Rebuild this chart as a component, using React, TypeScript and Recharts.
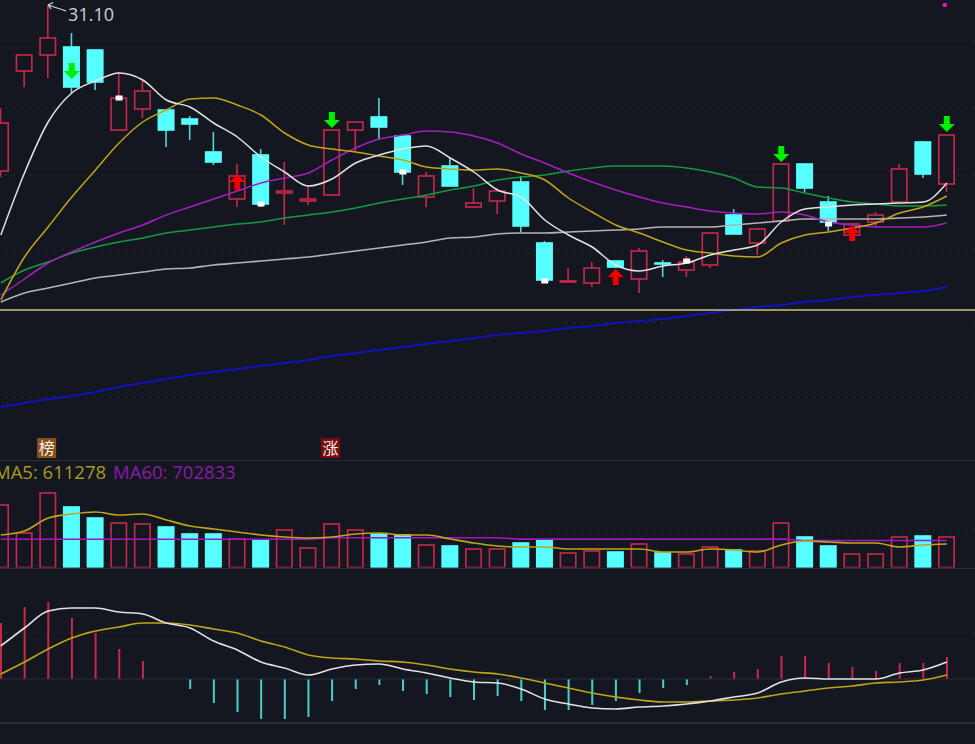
import { Bar, CartesianGrid, Cell, ComposedChart, Line, ReferenceLine, XAxis, YAxis } from 'recharts';

const opens = [22.8, 27.8, 28.6, 29.0, 28.85, 24.85, 25.9, 25.85, 25.4, 23.75, 21.4, 23.6, 21.7, 21.3, 21.6, 24.85, 25.5, 24.55, 21.5, 23.05, 21.0, 21.3, 22.25, 19.2, 17.25, 17.2, 18.3, 17.4, 18.2, 17.85, 18.1, 20.6, 19.2, 20.3, 23.15, 21.25, 19.6, 20.25, 21.25, 24.25, 22.15];
const closes = [25.2, 28.6, 29.45, 27.0, 27.25, 26.45, 26.8, 24.85, 25.15, 23.25, 22.55, 21.15, 21.8, 21.4, 24.85, 25.25, 25.0, 22.75, 22.55, 22.05, 21.2, 21.8, 20.05, 17.35, 17.3, 17.95, 18.0, 18.8, 18.15, 18.25, 19.7, 19.65, 19.9, 23.15, 21.95, 20.25, 20.15, 20.6, 22.9, 22.65, 24.6];
const highs = [25.95, 28.6, 31.1, 29.7, 28.85, 27.75, 27.35, 25.85, 25.55, 24.75, 23.15, 23.9, 23.25, 22.05, 24.85, 25.25, 26.45, 24.65, 22.75, 23.45, 21.95, 21.95, 22.55, 19.3, 17.95, 18.25, 18.3, 18.95, 18.35, 18.55, 19.7, 20.9, 19.95, 23.15, 23.15, 21.55, 20.2, 20.75, 23.15, 24.3, 24.6];
const lows = [22.5, 27.0, 27.45, 26.7, 26.85, 24.85, 25.45, 24.0, 24.35, 23.1, 21.0, 21.0, 20.1, 21.1, 21.6, 23.75, 24.35, 22.1, 21.0, 22.05, 21.0, 20.65, 19.75, 17.2, 17.25, 17.0, 17.95, 16.7, 17.5, 17.5, 17.95, 19.65, 18.6, 20.3, 21.75, 19.8, 19.6, 20.05, 21.25, 22.45, 21.75];

const ma5 = [19.6, 22.7, 25.25, 26.7, 27.3, 27.7, 27.35, 26.35, 26.0, 25.2, 24.5, 23.5, 22.75, 22.05, 22.4, 23.2, 23.6, 23.9, 24.05, 23.45, 22.75, 21.85, 21.5, 20.35, 19.6, 19.0, 18.1, 17.8, 18.05, 18.2, 18.6, 18.85, 19.1, 20.25, 20.9, 21.0, 21.1, 21.15, 21.2, 21.25, 22.2];
const ma10 = [16.35, 18.5, 20.0, 21.5, 22.85, 24.2, 25.25, 25.85, 26.4, 26.45, 26.1, 25.6, 24.7, 24.1, 23.9, 23.75, 23.55, 23.35, 23.0, 22.9, 22.85, 22.9, 22.7, 22.35, 21.45, 20.75, 20.1, 19.7, 19.25, 18.85, 18.7, 18.55, 18.5, 19.2, 19.6, 19.75, 19.95, 20.2, 20.7, 21.0, 21.55];
const ma20 = [16.6, 17.4, 18.2, 18.75, 19.25, 19.7, 20.1, 20.6, 21.0, 21.4, 21.8, 22.2, 22.45, 22.7, 23.35, 23.95, 24.4, 24.6, 24.8, 24.75, 24.55, 24.2, 23.65, 23.2, 22.7, 22.25, 21.85, 21.5, 21.2, 21.0, 20.8, 20.7, 20.65, 20.75, 20.6, 20.25, 20.1, 20.0, 20.0, 20.0, 20.2];
const ma30 = [17.2, 17.85, 18.25, 18.7, 19.0, 19.25, 19.45, 19.7, 19.85, 20.0, 20.15, 20.25, 20.45, 20.6, 20.75, 20.95, 21.2, 21.4, 21.6, 21.85, 22.05, 22.35, 22.5, 22.6, 22.8, 22.95, 23.05, 23.05, 23.05, 22.95, 22.75, 22.45, 22.0, 21.95, 21.7, 21.45, 21.25, 21.15, 21.05, 21.05, 21.1];
const ma60 = [16.25, 16.7, 16.95, 17.2, 17.45, 17.6, 17.75, 17.9, 17.95, 18.1, 18.2, 18.3, 18.4, 18.5, 18.65, 18.8, 18.95, 19.1, 19.25, 19.45, 19.5, 19.65, 19.7, 19.7, 19.75, 19.8, 19.85, 19.9, 20.0, 20.0, 20.0, 20.1, 20.2, 20.3, 20.4, 20.4, 20.4, 20.4, 20.45, 20.5, 20.6];
const ma120 = [11.0, 11.2, 11.4, 11.55, 11.75, 12.0, 12.2, 12.4, 12.6, 12.75, 12.9, 13.05, 13.2, 13.35, 13.55, 13.7, 13.85, 14.0, 14.15, 14.3, 14.45, 14.6, 14.7, 14.8, 14.95, 15.05, 15.2, 15.3, 15.4, 15.55, 15.7, 15.85, 16.0, 16.1, 16.25, 16.35, 16.5, 16.6, 16.7, 16.8, 17.0];

const volumes = [1625000, 897000, 1937000, 1573000, 1287000, 1157000, 1131000, 1053000, 871000, 871000, 741000, 715000, 975000, 507000, 1131000, 975000, 871000, 845000, 585000, 559000, 481000, 481000, 637000, 715000, 377000, 429000, 403000, 611000, 377000, 351000, 533000, 455000, 429000, 1157000, 793000, 559000, 351000, 351000, 793000, 819000, 793000];
const volMa5 = [845000, 949000, 1287000, 1391000, 1443000, 1365000, 1391000, 1235000, 1079000, 1001000, 923000, 845000, 793000, 767000, 793000, 871000, 897000, 845000, 845000, 741000, 637000, 559000, 533000, 533000, 481000, 481000, 481000, 481000, 403000, 403000, 481000, 455000, 403000, 585000, 689000, 663000, 637000, 637000, 533000, 585000, 611278];
const volMa60 = [735000, 735000, 735000, 735000, 735000, 735000, 735000, 735000, 735000, 735000, 735000, 735000, 735000, 735000, 772000, 772000, 772000, 772000, 772000, 772000, 772000, 772000, 738000, 738000, 738000, 738000, 738000, 738000, 738000, 738000, 738000, 738000, 738000, 738000, 703000, 703000, 703000, 703000, 703000, 703000, 702833];

const dif = [0.33, 0.51, 0.68, 0.71, 0.71, 0.67, 0.65, 0.56, 0.51, 0.38, 0.29, 0.17, 0.11, 0.04, 0.1, 0.14, 0.15, 0.1, 0.06, 0.01, -0.03, -0.04, -0.1, -0.2, -0.25, -0.29, -0.3, -0.28, -0.27, -0.25, -0.22, -0.18, -0.14, -0.03, 0.01, 0, 0, 0, 0.06, 0.09, 0.17];
const dea = [0.05, 0.17, 0.3, 0.41, 0.48, 0.52, 0.56, 0.56, 0.54, 0.5, 0.46, 0.38, 0.32, 0.24, 0.21, 0.2, 0.18, 0.17, 0.14, 0.1, 0.07, 0.05, 0.01, -0.04, -0.09, -0.14, -0.18, -0.21, -0.23, -0.23, -0.22, -0.21, -0.19, -0.15, -0.12, -0.09, -0.07, -0.04, -0.03, -0.01, 0.04];
const macdHist = [0.56, 0.72, 0.77, 0.61, 0.46, 0.3, 0.18, 0, -0.1, -0.24, -0.33, -0.4, -0.4, -0.38, -0.22, -0.1, -0.06, -0.12, -0.15, -0.18, -0.21, -0.17, -0.22, -0.31, -0.31, -0.26, -0.22, -0.14, -0.09, -0.06, 0.03, 0.07, 0.1, 0.23, 0.23, 0.16, 0.12, 0.08, 0.16, 0.16, 0.22];

// session index -> price where the marker sits
const sellArrows: Record<number, number> = { 3: 27.8, 14: 25.35, 33: 23.65, 40: 25.15 };
const buyArrows: Record<number, number> = { 10: 22.25, 26: 17.5, 36: 19.7 };
const whiteTicks: Record<number, number> = { 5: 26.45, 11: 21.15, 17: 22.75, 23: 17.3, 29: 18.3, 35: 20.15 };
const badges: Record<number, { text: string; fill: string; price: number }> = {
  2: { text: '榜', fill: '#8a4f1c', price: 8.95 },
  14: { text: '涨', fill: '#7a0c10', price: 8.95 },
};
const highLabel = { session: 2, price: 31.1, text: '31.10' };
const cornerDot = { session: 40, price: 31.1 };

const priceGrid = [29.3, 25.95, 22.6, 18.85, 15.2, 11.5];
const priceLine = 15.85;
const volumeGrid = [975000];
const macdGrid = [0.46];

const RED = '#c8284c';
const CYAN = '#55ffff';
const BG = '#14171f';
const GRID = '#2e3139';
const FONT = '"Open Sans", sans-serif';

// one extra empty slot at the right edge, the picture has room after the last candle
const rows = [...opens.map((_, i) => i), 41].map((i) => ({
  session: i,
  open: opens[i] ?? null,
  close: closes[i] ?? null,
  high: highs[i] ?? null,
  low: lows[i] ?? null,
  ma5: ma5[i] ?? null,
  ma10: ma10[i] ?? null,
  ma20: ma20[i] ?? null,
  ma30: ma30[i] ?? null,
  ma60: ma60[i] ?? null,
  ma120: ma120[i] ?? null,
  volume: volumes[i] ?? null,
  volMa5: volMa5[i] ?? null,
  volMa60: volMa60[i] ?? null,
  dif: dif[i] ?? null,
  dea: dea[i] ?? null,
  macdHist: macdHist[i] ?? null,
  sell: sellArrows[i] ?? null,
  buy: buyArrows[i] ?? null,
  tick: whiteTicks[i] ?? null,
  badge: badges[i]?.price ?? null,
  peak: i === highLabel.session ? highLabel.price : null,
  corner: i === cornerDot.session ? cornerDot.price : null,
}));

const CHART_WIDTH = 993.3;
const MARGIN = { top: 0, right: 0, bottom: 0, left: 0 };

function Candle({ x, y, width, height, payload }: any) {
  if (payload.open == null || !height) return null;
  const { open, close, high, low } = payload;
  const perUnit = height / (high - low);
  const bodyTop = y + (high - Math.max(open, close)) * perUnit;
  const bodyH = Math.max(Math.abs(open - close) * perUnit, 1);
  const up = close >= open;
  const mid = x + width / 2;
  const color = up ? RED : CYAN;
  return (
    <g>
      <line x1={mid} x2={mid} y1={y} y2={y + height} stroke={up ? RED : '#4fd6d6'} strokeWidth={1.6} />
      <rect
        x={x + 0.8}
        y={bodyTop}
        width={width - 1.6}
        height={bodyH}
        fill={up ? BG : color}
        stroke={color}
        strokeWidth={1.6}
      />
    </g>
  );
}

function VolumeBar({ x, y, width, height, payload }: any) {
  if (payload.open == null) return null;
  const up = payload.close >= payload.open;
  return (
    <rect
      x={x + 0.8}
      y={y}
      width={width - 1.6}
      height={height}
      fill={up ? 'none' : CYAN}
      stroke={up ? RED : CYAN}
      strokeWidth={1.6}
    />
  );
}

function ArrowDot({ cx, cy, payload, color, down }: any) {
  if (cy == null) return <g key={payload?.session} />;
  const s = down ? 1 : -1;
  return (
    <path
      key={payload.session}
      d={`M${cx - 3} ${cy - 8 * s}H${cx + 3}V${cy}H${cx + 8}L${cx} ${cy + 8 * s}L${cx - 8} ${cy}H${cx - 3}Z`}
      fill={color}
    />
  );
}

function TickDot({ cx, cy, payload }: any) {
  if (cy == null) return <g key={payload?.session} />;
  return <rect key={payload.session} x={cx - 3.5} y={cy - 2.5} width={7} height={5} fill="#ffffff" />;
}

function BadgeDot({ cx, cy, payload }: any) {
  if (cy == null) return <g key={payload?.session} />;
  const b = badges[payload.session];
  return (
    <g key={payload.session}>
      <rect x={cx - 11} y={cy - 10} width={19} height={20} fill={b.fill} />
      <text
        x={cx - 1.5}
        y={cy + 6}
        textAnchor="middle"
        fontSize={16}
        fontFamily='"Noto Sans CJK SC", sans-serif'
        fill="#f4f0e8"
      >
        {b.text}
      </text>
    </g>
  );
}

function PeakDot({ cx, cy, payload }: any) {
  if (cy == null) return <g key={payload?.session} />;
  return (
    <g key={payload.session}>
      <path
        d={`M${cx} ${cy}L${cx + 18} ${cy + 6}M${cx} ${cy}l5 -2.5M${cx} ${cy}l3 4`}
        stroke="#d6d6d6"
        strokeWidth={1.2}
        fill="none"
      />
      <text x={cx + 20} y={cy + 16} fontSize={18} fontFamily={FONT} fill="#cfd2d6">
        {highLabel.text}
      </text>
    </g>
  );
}

function CornerDot({ cx, cy, payload }: any) {
  if (cy == null) return <g key={payload?.session} />;
  return <rect key={payload.session} x={cx - 4} y={cy - 2} width={4} height={4} fill="#e010c8" />;
}

const lineProps = { type: 'monotone' as const, dot: false, activeDot: false, isAnimationActive: false };
const markProps = { stroke: 'none', activeDot: false, isAnimationActive: false, legendType: 'none' as const };

function Separator({ top }: { top: number }) {
  return <div style={{ position: 'absolute', left: 0, width: 975, top, height: 1.5, background: '#2b2e36' }} />;
}

export default function App() {
  return (
    <div style={{ position: 'fixed', left: 0, top: 0, width: 975, height: 744, background: BG, overflow: 'hidden' }}>
      <div style={{ position: 'absolute', left: -10.8, top: 0 }}>
        <ComposedChart width={CHART_WIDTH} height={460} data={rows} margin={MARGIN}>
          <XAxis dataKey="session" type="category" hide />
          <YAxis type="number" domain={[8.35, 31.35]} hide allowDataOverflow />
          <CartesianGrid vertical={false} horizontalValues={priceGrid} stroke={GRID} strokeDasharray="2 6" />
          <Bar dataKey={(r: any) => (r.low == null ? null : [r.low, r.high])} barSize={17} shape={<Candle />} isAnimationActive={false} />
          <Line {...lineProps} dataKey="ma120" stroke="#1212c4" strokeWidth={1.9} />
          <ReferenceLine y={priceLine} stroke="#c9c47e" strokeWidth={1.5} />
          <Line {...lineProps} dataKey="ma60" stroke="#b4b4b4" strokeWidth={1.6} />
          <Line {...lineProps} dataKey="ma30" stroke="#129a42" strokeWidth={1.5} />
          <Line {...lineProps} dataKey="ma20" stroke="#a41fc0" strokeWidth={1.5} />
          <Line {...lineProps} dataKey="ma10" stroke="#bfa51a" strokeWidth={1.5} />
          <Line {...lineProps} dataKey="ma5" stroke="#e2e2e2" strokeWidth={1.5} />
          <Line {...markProps} dataKey="tick" dot={(p: any) => <TickDot {...p} />} />
          <Line {...markProps} dataKey="sell" dot={(p: any) => <ArrowDot {...p} color="#00f000" down />} />
          <Line {...markProps} dataKey="buy" dot={(p: any) => <ArrowDot {...p} color="#f00000" />} />
          <Line {...markProps} dataKey="badge" dot={(p: any) => <BadgeDot {...p} />} />
          <Line {...markProps} dataKey="peak" dot={(p: any) => <PeakDot {...p} />} />
          <Line {...markProps} dataKey="corner" dot={(p: any) => <CornerDot {...p} />} />
        </ComposedChart>
      </div>

      <div style={{ position: 'absolute', left: -10.8, top: 460 }}>
        <ComposedChart width={CHART_WIDTH} height={107.5} data={rows} margin={MARGIN}>
          <XAxis dataKey="session" type="category" hide />
          <YAxis type="number" domain={[0, 2795000]} hide allowDataOverflow />
          <CartesianGrid vertical={false} horizontalValues={volumeGrid} stroke={GRID} strokeDasharray="2 6" />
          <Bar dataKey="volume" barSize={17} shape={<VolumeBar />} isAnimationActive={false} />
          <Line {...lineProps} dataKey="volMa60" stroke="#a415c4" strokeWidth={1.6} />
          <Line {...lineProps} dataKey="volMa5" stroke="#bfa51a" strokeWidth={1.6} />
        </ComposedChart>
      </div>

      <div
        style={{
          position: 'absolute',
          left: -6,
          top: 460,
          height: 24,
          lineHeight: '24px',
          fontFamily: FONT,
          fontSize: 18.5,
          fontWeight: 500,
          whiteSpace: 'nowrap',
        }}
      >
        <span style={{ color: '#a89a1c' }}>MA5: 611278</span>
        <span style={{ color: '#8c1aa8', marginLeft: 7 }}>MA60: 702833</span>
      </div>

      <div style={{ position: 'absolute', left: -10.8, top: 568 }}>
        <ComposedChart width={CHART_WIDTH} height={176} data={rows} margin={MARGIN}>
          <XAxis dataKey="session" type="category" hide />
          <YAxis type="number" domain={[-0.65, 1.11]} hide allowDataOverflow />
          <CartesianGrid vertical={false} horizontalValues={macdGrid} stroke={GRID} strokeDasharray="2 6" />
          <ReferenceLine y={0} stroke={GRID} />
          <Bar dataKey="macdHist" barSize={2} isAnimationActive={false}>
            {rows.map((r) => (
              <Cell key={r.session} fill={(r.macdHist ?? 0) >= 0 ? RED : '#45cfcf'} />
            ))}
          </Bar>
          <Line {...lineProps} dataKey="dea" stroke="#bfa51a" strokeWidth={1.6} />
          <Line {...lineProps} dataKey="dif" stroke="#e2e2e2" strokeWidth={1.6} />
        </ComposedChart>
      </div>

      <Separator top={459.5} />
      <Separator top={567.5} />
      <Separator top={722} />
    </div>
  );
}
